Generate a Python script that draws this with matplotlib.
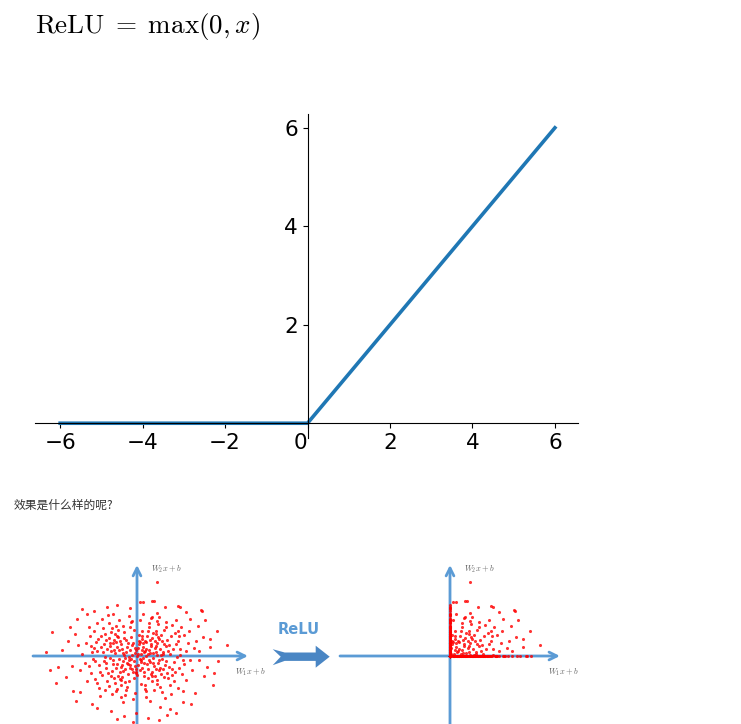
import numpy as np
import matplotlib
matplotlib.use("Agg")
import matplotlib.pyplot as plt
from matplotlib.patches import Polygon

plt.rcParams['mathtext.fontset'] = 'cm'

# ReLU curve
relu_x = [-6, -4, -2, 0, 2, 4, 6]
relu_y = [0, 0, 0, 0, 2, 4, 6]
xticks = [-6, -4, -2, 0, 2, 4, 6]
yticks = [2, 4, 6]

# scatter cloud (units of the little diagram, origin at axis cross)
pts = [
    (0.12, 0.05), (-0.21, 0.18), (0.35, -0.12), (-0.44, -0.27), (0.08, -0.41), (0.51, 0.22),
    (-0.63, 0.09), (0.27, 0.39), (-0.09, -0.15), (0.66, -0.33), (-0.32, 0.47), (0.19, -0.58),
    (-0.71, -0.44), (0.43, 0.51), (-0.15, 0.31), (0.74, 0.06), (-0.52, -0.08), (0.02, 0.24),
    (0.31, -0.36), (-0.27, -0.52), (0.58, 0.37), (-0.78, 0.28), (0.14, 0.56), (-0.05, -0.29),
    (0.47, -0.05), (-0.38, 0.02), (0.22, 0.13), (-0.59, 0.41), (0.69, -0.51), (-0.12, -0.47),
    (0.39, 0.29), (-0.24, -0.11), (0.05, 0.44), (0.61, -0.19), (-0.47, 0.34), (0.28, -0.24),
    (-0.69, -0.23), (0.17, 0.27), (-0.33, -0.38), (0.54, 0.12), (-0.07, 0.08), (0.36, 0.46),
    (-0.55, -0.57), (0.76, 0.33), (-0.18, 0.55), (0.09, -0.09), (0.44, -0.45), (-0.42, 0.21),
    (0.25, 0.01), (-0.74, 0.15), (0.63, 0.48), (-0.29, -0.19), (0.01, -0.55), (0.49, -0.28),
    (-0.61, -0.35), (0.33, 0.18), (-0.11, 0.38), (0.72, -0.08), (-0.36, 0.52), (0.15, -0.33),
    (-0.49, -0.46), (0.57, 0.03), (-0.02, 0.16), (0.41, 0.35), (-0.66, 0.47), (0.21, -0.47),
    (-0.23, -0.03), (0.67, 0.21), (-0.41, -0.15), (0.06, 0.33), (0.52, -0.56), (-0.57, 0.26),
    (0.29, 0.58), (-0.14, -0.36), (0.79, -0.27), (-0.77, -0.06), (0.11, -0.18), (-0.31, 0.11),
    (0.46, 0.08), (-0.04, -0.49), (0.37, -0.16), (-0.53, 0.53), (0.24, 0.42), (-0.19, -0.25),
    (0.62, -0.41), (-0.68, 0.36), (0.03, 0.07), (0.55, 0.28), (-0.45, -0.31), (0.18, -0.05),
    (1.02, 0.21), (-0.95, -0.13), (0.88, -0.62), (-1.12, 0.48), (1.21, 0.57), (-0.86, -0.71),
    (0.34, 0.83), (-0.28, -0.88), (1.35, -0.24), (-1.28, 0.11), (0.61, 0.91), (-0.72, 0.79),
    (0.94, -0.84), (-1.05, -0.45), (1.14, -0.03), (-0.17, 0.97), (0.22, -0.93), (-1.38, -0.29),
    (1.47, 0.36), (-0.91, 0.63), (0.77, 0.74), (-0.58, -0.94), (1.09, 0.66), (-1.19, -0.67),
    (0.49, -0.97), (-0.39, 0.86), (1.29, -0.52), (-1.45, 0.38), (0.83, 0.98), (-0.81, 0.95),
    (1.52, -0.11), (-1.02, 0.27), (0.56, -0.81), (-0.64, -0.78), (1.18, 0.42), (-1.31, -0.48),
    (0.09, 1.02), (-0.06, -1.05), (0.99, -0.37), (-0.98, 0.12), (1.41, 0.14), (-1.22, 0.71),
    (0.71, -1.02), (-0.52, 1.03), (1.26, 0.82), (-1.09, -0.91), (0.41, 1.08), (-0.33, -1.12),
    (1.58, -0.39), (-1.56, 0.05), (0.87, 0.47), (-0.89, -0.34), (1.06, -0.71), (-1.15, 0.93),
    (0.64, 1.12), (-0.71, -1.08), (1.33, 0.61), (-1.42, -0.72), (0.27, -1.16), (-0.24, 1.14),
    (0.92, 0.31), (-1.26, -0.09), (1.17, -0.91), (-0.96, 0.79), (0.53, 0.71), (-0.47, -0.69),
    (1.48, 0.72), (-1.35, 0.57), (0.81, -1.19), (-0.84, 1.17), (1.11, 1.03), (-1.07, -1.14),
    (0.16, 1.21), (-0.12, -1.23), (1.39, -0.68), (-1.49, -0.21), (0.69, 0.61), (-0.75, -0.58),
    (1.24, 0.04), (-1.17, 0.39), (0.97, -1.09), (-0.68, 1.21), (0.38, -1.29), (-0.41, -1.31),
    (1.62, 0.22), (-1.63, -0.41), (0.58, 1.24), (-0.99, 1.06), (1.01, 0.88), (-0.92, -0.97),
    (0.86, -0.49), (-1.23, 0.24), (1.31, -1.01), (-1.37, 0.84), (0.44, -0.72), (-0.54, 0.75),
    (1.19, -0.34), (-0.88, -0.19), (0.73, 0.12), (-0.79, 0.51),
    (1.86, 1.29), (1.23, 1.41), (-0.87, 1.41), (-2.42, 0.69), (-2.31, -0.76), (-1.15, -1.48),
    (0.94, -1.51), (1.31, -1.31), (2.32, -0.14), (2.18, -0.83), (-1.91, 0.84), (-1.42, 1.20),
    (0.49, 1.57), (0.18, 1.55), (-2.25, -0.30), (-2.15, 0.17), (-1.82, -0.99), (-1.63, -1.02),
    (0.85, -1.69), (1.66, -1.06), (0.56, 2.11), (2.56, 0.31), (1.88, 0.55), (2.08, 0.49),
    (2.09, 0.27), (1.76, 0.14), (1.52, 1.05), (1.83, 1.31), (1.17, 1.43), (0.43, 1.58),
    (0.08, 1.55), (-0.21, 1.38), (-0.56, 1.46), (-1.24, 1.29), (-1.71, 1.05), (-1.98, 0.43),
    (-1.86, -0.28), (-2.02, -0.61), (-1.74, -1.28), (-1.29, -1.36), (-0.74, -1.56), (-0.38, -1.71),
    (-0.02, -1.62), (0.31, -1.78), (0.66, -1.45), (1.12, -1.62), (1.54, -1.36), (1.91, -0.58),
    (2.01, -0.32), (1.73, 0.87), (1.95, 1.02), (2.28, 0.71), (-2.61, 0.12), (-2.49, -0.41),
    (-1.58, 1.35), (0.79, 1.39), (1.41, 1.25), (-0.11, -1.88), (0.62, -1.84), (-0.56, -1.79),
    (1.78, -0.12), (-1.68, 0.31), (-1.78, 0.64), (1.69, 0.42), (2.21, -0.49),
    (0.95, 0.05), (-0.93, 0.33), (0.15, 0.72), (-0.22, -0.71), (0.58, -0.69), (-0.62, 0.64),
    (1.05, -0.18), (-1.08, -0.25), (0.32, -0.64), (-0.37, 0.68), (0.82, 0.28), (-0.83, -0.48),
    (0.12, -0.79), (-0.08, 0.74), (0.71, 0.42), (-0.70, -0.11), (1.12, 0.33), (-1.14, 0.14),
    (0.47, 0.66), (-0.46, -0.83), (0.26, 0.21), (-0.16, -0.08), (0.04, -0.27), (-0.26, 0.36),
    (0.39, -0.51), (-0.51, 0.17), (0.68, 0.02), (-0.65, -0.62), (0.84, -0.14), (-0.86, 0.20),
    (0.13, 0.49), (-0.09, -0.63), (0.53, -0.38), (-0.56, 0.58), (0.97, 0.56), (-0.99, -0.55),
    (0.31, 0.71), (-0.35, -0.74), (0.76, -0.61), (-0.73, 0.70), (0.19, 0.11), (-0.28, 0.26),
    (0.45, -0.21), (-0.39, -0.44), (0.07, 0.61), (-0.04, -0.37), (0.60, 0.55), (-0.58, -0.23),
    (0.89, 0.13), (-0.92, -0.04), (0.23, -0.82), (-0.19, 0.83), (0.66, -0.88), (-0.61, 0.87),
    (1.09, -0.46), (-1.04, 0.57), (0.35, 0.94), (-0.31, -0.97), (0.82, 0.84), (-0.79, -0.87),
    (0.00, 0.00), (0.10, -0.12), (-0.13, 0.04), (0.32, 0.06), (-0.34, -0.07), (0.16, 0.36),
    (-0.20, -0.33), (0.50, 0.42), (-0.48, 0.44), (0.42, -0.58), (-0.43, -0.59), (0.74, -0.38),
    (-0.76, 0.36), (1.22, 0.21), (-1.20, -0.15), (0.27, -1.00), (-0.15, 1.01), (0.57, 1.00),
    (-0.60, -1.01), (1.00, -0.55), (0.13, 0.17), (-0.07, 0.22), (0.20, -0.20), (-0.25, -0.24),
    (0.38, 0.10), (-0.40, 0.08), (0.08, 0.41), (-0.02, -0.45), (0.64, -0.12), (-0.66, 0.16),
    (0.55, 0.62), (-0.50, -0.66), (0.90, -0.30), (-0.90, 0.45), (1.16, 0.72), (-1.13, -0.78),
    (0.44, 1.12), (-0.47, -1.18), (1.30, -0.12), (-1.32, 0.30),
]
pts_x = np.array([p[0] for p in pts])
pts_y = np.array([p[1] for p in pts])
# after ReLU
relu_px = np.maximum(pts_x, 0)
relu_py = np.maximum(pts_y, 0)

W, H = 741, 724
fig = plt.figure(figsize=(W / 100, H / 100), dpi=100)


def px_axes(l, t, r, b):
    return fig.add_axes([l / W, 1 - b / H, (r - l) / W, (b - t) / H])


fig.text(35 / W, 1 - 26 / H, r'$\mathrm{ReLU}\;=\;\max(0,x)$', fontsize=19.5, va='center')

# --- ReLU plot ---
ax = px_axes(35, 114, 578, 438)
ax.plot(relu_x, relu_y, color='#1f77b4', lw=2.6)
ax.set_xlim(-6.61, 6.56)
ax.set_ylim(-0.3, 6.28)
ax.spines['left'].set_position(('data', 0))
ax.spines['bottom'].set_position(('data', 0))
ax.spines['top'].set_visible(False)
ax.spines['right'].set_visible(False)
ax.set_xticks(xticks)
ax.set_yticks(yticks)
ax.tick_params(labelsize=15.5)
for lab in ax.get_xticklabels():
    if lab.get_text() == '0':
        lab.set_horizontalalignment('right')
ax.patch.set_alpha(0)

fig.text(14 / W, 1 - 505 / H, '效果是什么样的呢?', fontsize=8.5, color='#333333',
         va='center', family=['Noto Sans CJK SC', 'DejaVu Sans'])

axis_c = '#5b9bd5'
unit = 35.0


def panel(l, r, ox, xs, ys, tip):
    a = px_axes(l, 560, r, 724)
    a.set_xlim((l - ox) / unit, (r - ox) / unit)
    a.set_ylim((656 - 724) / unit, (656 - 560) / unit)
    a.axis('off')
    x0 = (l - ox) / unit
    a.annotate('', xy=(tip, 0), xytext=(x0, 0),
               arrowprops=dict(arrowstyle='->', color=axis_c, lw=2, mutation_scale=14,
                               shrinkA=0, shrinkB=0))
    a.annotate('', xy=(0, 2.6), xytext=(0, -1.94),
               arrowprops=dict(arrowstyle='->', color=axis_c, lw=2, mutation_scale=14,
                               shrinkA=0, shrinkB=0))
    a.scatter(xs, ys, s=5, color='red', alpha=0.8, lw=0, zorder=3)
    a.text(0.4, 2.49, r'$W_2x+b$', fontsize=6, color='#666666', va='center')
    a.text(2.8, -0.46, r'$W_1x+b$', fontsize=6, color='#666666', va='center')
    return a


panel(33, 260, 137, pts_x, pts_y, 3.17)
panel(340, 600, 450, relu_px, relu_py, 3.14)

# middle big arrow and label
mid = px_axes(262, 615, 340, 680)
mid.set_xlim(262, 340)
mid.set_ylim(680, 615)
mid.axis('off')
ax0, ay0 = 272.7, 656.7
shape = [(0, -7.5), (8, 0), (0, 8.5), (12, 4.2), (43, 4.2), (43, 11), (57, 0),
         (43, -11), (43, -4.2), (12, -4.2)]
mid.add_patch(Polygon([(ax0 + dx, ay0 + dy) for dx, dy in shape], closed=True,
                      color='#4a86c4', lw=0))
mid.text(299, 630, 'ReLU', fontsize=10.5, fontweight='bold', color=axis_c,
         ha='center', va='center', family='DejaVu Sans')

fig.savefig('out.png', dpi=100)
